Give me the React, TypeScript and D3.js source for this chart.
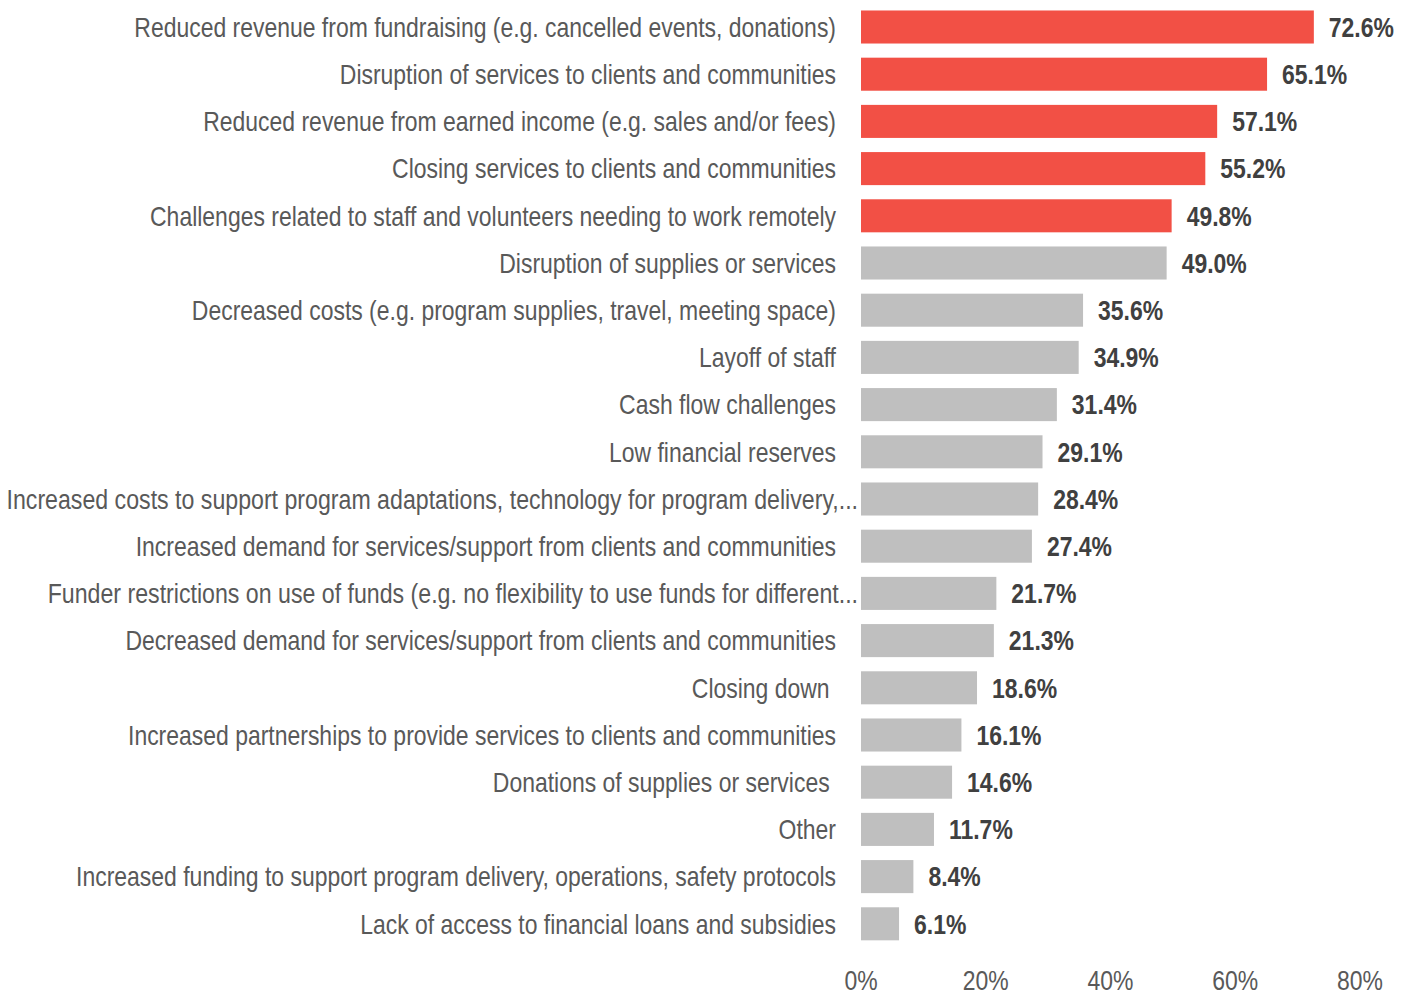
import React from "react";
import * as d3 from "d3";

const categories = [
  "Reduced revenue from fundraising (e.g. cancelled events, donations)",
  "Disruption of services to clients and communities",
  "Reduced revenue from earned income (e.g. sales and/or fees)",
  "Closing services to clients and communities",
  "Challenges related to staff and volunteers needing to work remotely",
  "Disruption of supplies or services",
  "Decreased costs (e.g. program supplies, travel, meeting space)",
  "Layoff of staff",
  "Cash flow challenges",
  "Low financial reserves",
  "Increased costs to support program adaptations, technology for program delivery,...",
  "Increased demand for services/support from clients and communities",
  "Funder restrictions on use of funds (e.g. no flexibility to use funds for different...",
  "Decreased demand for services/support from clients and communities",
  "Closing down ",
  "Increased partnerships to provide services to clients and communities",
  "Donations of supplies or services ",
  "Other",
  "Increased funding to support program delivery, operations, safety protocols",
  "Lack of access to financial loans and subsidies",
];
const values = [72.6, 65.1, 57.1, 55.2, 49.8, 49.0, 35.6, 34.9, 31.4, 29.1, 28.4, 27.4, 21.7, 21.3, 18.6, 16.1, 14.6, 11.7, 8.4, 6.1];
const highlighted = [true, true, true, true, true, false, false, false, false, false, false, false, false, false, false, false, false, false, false, false];
const ticks = [0, 20, 40, 60, 80];

export default function App() {
  const width = 1410;
  const height = 992;
  const x = d3.scaleLinear().domain([0, 80]).range([861, 1360]);
  const y = d3.scaleBand().domain(categories).range([3.4, 947.4]).paddingInner(0.3).paddingOuter(0.15);
  const font = "'Liberation Sans', Arial, sans-serif";
  const sx = 0.82;
  const fs = 28;
  return (
    <svg width={width} height={height} style={{ position: "absolute", left: 0, top: 0 }}>
      <rect width={width} height={height} fill="#fff" />
      {categories.map((c, i) => {
        const yc = (y(c) as number) + y.bandwidth() / 2;
        const truncated = c.endsWith("...");
        const lx = truncated ? 858 : 836;
        const lsx = truncated ? 0.827 : sx;
        return (
          <g key={c}>
            <rect x={x(0)} y={y(c)} width={x(values[i]) - x(0)} height={y.bandwidth()} fill={highlighted[i] ? "#F25045" : "#BFBFBF"} />
            <text transform={`translate(${lx},${yc}) scale(${lsx},1)`} dy="0.35em" textAnchor="end" fontFamily={font} fontSize={fs} fill="#595959" style={{ whiteSpace: "pre" }}>{c}</text>
            <text transform={`translate(${x(values[i]) + 15},${yc}) scale(${sx},1)`} dy="0.35em" fontFamily={font} fontSize={fs} fontWeight="bold" fill="#404040">{values[i].toFixed(1) + "%"}</text>
          </g>
        );
      })}
      {ticks.map((t) => (
        <text key={t} transform={`translate(${x(t)},980) scale(${sx},1)`} dy="0.35em" textAnchor="middle" fontFamily={font} fontSize={fs} fill="#595959">{t + "%"}</text>
      ))}
    </svg>
  );
}
